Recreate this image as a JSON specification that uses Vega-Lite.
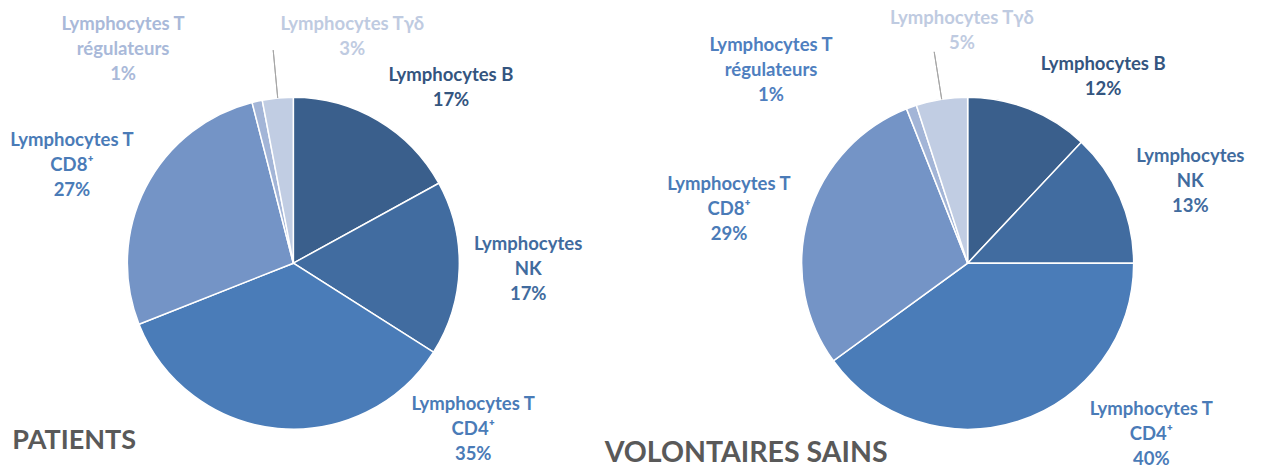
{
  "$schema": "https://vega.github.io/schema/vega-lite/v6.json",
  "width": 1261,
  "height": 470,
  "padding": 0,
  "autosize": {"type": "none"},
  "background": "white",
  "config": {"view": {"stroke": null}},
  "data": {
    "values": [
      {"groupe": "PATIENTS", "categorie": "B", "valeur": 17, "etiquette": "Lymphocytes B\n17%"},
      {"groupe": "PATIENTS", "categorie": "NK", "valeur": 17, "etiquette": "Lymphocytes\nNK\n17%"},
      {"groupe": "PATIENTS", "categorie": "CD4", "valeur": 35, "etiquette": "Lymphocytes T\nCD4⁺\n35%"},
      {"groupe": "PATIENTS", "categorie": "CD8", "valeur": 27, "etiquette": "Lymphocytes T\nCD8⁺\n27%"},
      {"groupe": "PATIENTS", "categorie": "Treg", "valeur": 1, "etiquette": "Lymphocytes T\nrégulateurs\n1%"},
      {"groupe": "PATIENTS", "categorie": "Tgd", "valeur": 3, "etiquette": "Lymphocytes Tγδ\n3%"},
      {"groupe": "VOLONTAIRES SAINS", "categorie": "B", "valeur": 12, "etiquette": "Lymphocytes B\n12%"},
      {"groupe": "VOLONTAIRES SAINS", "categorie": "NK", "valeur": 13, "etiquette": "Lymphocytes\nNK\n13%"},
      {"groupe": "VOLONTAIRES SAINS", "categorie": "CD4", "valeur": 40, "etiquette": "Lymphocytes T\nCD4⁺\n40%"},
      {"groupe": "VOLONTAIRES SAINS", "categorie": "CD8", "valeur": 29, "etiquette": "Lymphocytes T\nCD8⁺\n29%"},
      {"groupe": "VOLONTAIRES SAINS", "categorie": "Treg", "valeur": 1, "etiquette": "Lymphocytes T\nrégulateurs\n1%"},
      {"groupe": "VOLONTAIRES SAINS", "categorie": "Tgd", "valeur": 5, "etiquette": "Lymphocytes Tγδ\n5%"}
    ]
  },
  "transform": [
    {"stack": "valeur", "groupby": ["groupe"], "as": ["v0", "v1"]},
    {"calculate": "(datum.v0 + datum.v1) / 2", "as": "mid"}
  ],
  "encoding": {
    "x": {"field": "groupe", "type": "nominal", "scale": {"type": "point", "padding": 0.435, "domain": ["PATIENTS", "VOLONTAIRES SAINS"]}, "axis": null},
    "y": {"datum": "centre", "type": "nominal", "scale": {"type": "point", "align": 0.56}, "axis": null}
  },
  "layer": [
    {
      "mark": {"type": "arc", "outerRadius": 166, "stroke": "white", "strokeWidth": 1.5},
      "encoding": {
        "theta": {"field": "v0", "type": "quantitative", "scale": {"domain": [0, 100]}},
        "theta2": {"field": "v1"},
        "color": {
          "field": "categorie", "type": "nominal", "legend": null,
          "scale": {"domain": ["B", "NK", "CD4", "CD8", "Treg", "Tgd"], "range": ["#3A5F8C", "#416CA0", "#4A7CB8", "#7494C6", "#A3B5D7", "#C1CDE3"]}
        }
      }
    },
    {
      "transform": [{"filter": "datum.categorie === 'Tgd'"}],
      "mark": {"type": "arc", "innerRadius": 166, "outerRadius": 214, "filled": false, "stroke": "#A6A6A6", "strokeWidth": 1},
      "encoding": {
        "theta": {"field": "mid", "type": "quantitative", "scale": {"domain": [0, 100]}},
        "theta2": {"field": "mid"}
      }
    },
    {
      "transform": [{"filter": "datum.groupe === 'PATIENTS' && datum.categorie === 'B'"}],
      "mark": {"type": "text", "radius": 235, "dx": 38, "dy": 14.5, "color": "#34557F", "font": "Lato", "fontWeight": "bold", "fontSize": 18.5, "lineHeight": 25, "lineBreak": "\n", "align": "center", "baseline": "middle"},
      "encoding": {"theta": {"field": "mid", "type": "quantitative", "scale": {"domain": [0, 100]}}, "text": {"field": "etiquette"}}
    },
    {
      "transform": [{"filter": "datum.groupe === 'PATIENTS' && datum.categorie === 'NK'"}],
      "mark": {"type": "text", "radius": 235, "dx": 0, "dy": -27, "color": "#416B9E", "font": "Lato", "fontWeight": "bold", "fontSize": 18.5, "lineHeight": 25, "lineBreak": "\n", "align": "center", "baseline": "middle"},
      "encoding": {"theta": {"field": "mid", "type": "quantitative", "scale": {"domain": [0, 100]}}, "text": {"field": "etiquette"}}
    },
    {
      "transform": [{"filter": "datum.groupe === 'PATIENTS' && datum.categorie === 'CD4'"}],
      "mark": {"type": "text", "radius": 235, "dx": 202, "dy": -93, "color": "#4A7BB7", "font": "Lato", "fontWeight": "bold", "fontSize": 18.5, "lineHeight": 25, "lineBreak": "\n", "align": "center", "baseline": "middle"},
      "encoding": {"theta": {"field": "mid", "type": "quantitative", "scale": {"domain": [0, 100]}}, "text": {"field": "etiquette"}}
    },
    {
      "transform": [{"filter": "datum.groupe === 'PATIENTS' && datum.categorie === 'CD8'"}],
      "mark": {"type": "text", "radius": 235, "dx": -12, "dy": -17, "color": "#4A7BB7", "font": "Lato", "fontWeight": "bold", "fontSize": 18.5, "lineHeight": 25, "lineBreak": "\n", "align": "center", "baseline": "middle"},
      "encoding": {"theta": {"field": "mid", "type": "quantitative", "scale": {"domain": [0, 100]}}, "text": {"field": "etiquette"}}
    },
    {
      "transform": [{"filter": "datum.groupe === 'PATIENTS' && datum.categorie === 'Treg'"}],
      "mark": {"type": "text", "radius": 235, "dx": -119, "dy": -10, "color": "#A9B9D9", "font": "Lato", "fontWeight": "bold", "fontSize": 18.5, "lineHeight": 25, "lineBreak": "\n", "align": "center", "baseline": "middle"},
      "encoding": {"theta": {"field": "mid", "type": "quantitative", "scale": {"domain": [0, 100]}}, "text": {"field": "etiquette"}}
    },
    {
      "transform": [{"filter": "datum.groupe === 'PATIENTS' && datum.categorie === 'Tgd'"}],
      "mark": {"type": "text", "radius": 235, "dx": 81, "dy": -5.5, "color": "#BFCBE1", "font": "Lato", "fontWeight": "bold", "fontSize": 18.5, "lineHeight": 25, "lineBreak": "\n", "align": "center", "baseline": "middle"},
      "encoding": {"theta": {"field": "mid", "type": "quantitative", "scale": {"domain": [0, 100]}}, "text": {"field": "etiquette"}}
    },
    {
      "transform": [{"filter": "datum.groupe === 'VOLONTAIRES SAINS' && datum.categorie === 'B'"}],
      "mark": {"type": "text", "radius": 235, "dx": 49, "dy": 19.5, "color": "#34557F", "font": "Lato", "fontWeight": "bold", "fontSize": 18.5, "lineHeight": 25, "lineBreak": "\n", "align": "center", "baseline": "middle"},
      "encoding": {"theta": {"field": "mid", "type": "quantitative", "scale": {"domain": [0, 100]}}, "text": {"field": "etiquette"}}
    },
    {
      "transform": [{"filter": "datum.groupe === 'VOLONTAIRES SAINS' && datum.categorie === 'NK'"}],
      "mark": {"type": "text", "radius": 235, "dx": 7, "dy": -14, "color": "#416B9E", "font": "Lato", "fontWeight": "bold", "fontSize": 18.5, "lineHeight": 25, "lineBreak": "\n", "align": "center", "baseline": "middle"},
      "encoding": {"theta": {"field": "mid", "type": "quantitative", "scale": {"domain": [0, 100]}}, "text": {"field": "etiquette"}}
    },
    {
      "transform": [{"filter": "datum.groupe === 'VOLONTAIRES SAINS' && datum.categorie === 'CD4'"}],
      "mark": {"type": "text", "radius": 235, "dx": 111, "dy": -78, "color": "#4A7BB7", "font": "Lato", "fontWeight": "bold", "fontSize": 18.5, "lineHeight": 25, "lineBreak": "\n", "align": "center", "baseline": "middle"},
      "encoding": {"theta": {"field": "mid", "type": "quantitative", "scale": {"domain": [0, 100]}}, "text": {"field": "etiquette"}}
    },
    {
      "transform": [{"filter": "datum.groupe === 'VOLONTAIRES SAINS' && datum.categorie === 'CD8'"}],
      "mark": {"type": "text", "radius": 235, "dx": -13, "dy": -14, "color": "#4A7BB7", "font": "Lato", "fontWeight": "bold", "fontSize": 18.5, "lineHeight": 25, "lineBreak": "\n", "align": "center", "baseline": "middle"},
      "encoding": {"theta": {"field": "mid", "type": "quantitative", "scale": {"domain": [0, 100]}}, "text": {"field": "etiquette"}}
    },
    {
      "transform": [{"filter": "datum.groupe === 'VOLONTAIRES SAINS' && datum.categorie === 'Treg'"}],
      "mark": {"type": "text", "radius": 235, "dx": -117, "dy": 3, "color": "#4F7FBF", "font": "Lato", "fontWeight": "bold", "fontSize": 18.5, "lineHeight": 25, "lineBreak": "\n", "align": "center", "baseline": "middle"},
      "encoding": {"theta": {"field": "mid", "type": "quantitative", "scale": {"domain": [0, 100]}}, "text": {"field": "etiquette"}}
    },
    {
      "transform": [{"filter": "datum.groupe === 'VOLONTAIRES SAINS' && datum.categorie === 'Tgd'"}],
      "mark": {"type": "text", "radius": 235, "dx": 31, "dy": -13.5, "color": "#BFCBE1", "font": "Lato", "fontWeight": "bold", "fontSize": 18.5, "lineHeight": 25, "lineBreak": "\n", "align": "center", "baseline": "middle"},
      "encoding": {"theta": {"field": "mid", "type": "quantitative", "scale": {"domain": [0, 100]}}, "text": {"field": "etiquette"}}
    },
    {
      "transform": [{"filter": "datum.groupe === 'PATIENTS'"}, {"aggregate": [{"op": "count", "as": "n"}], "groupby": ["groupe"]}],
      "mark": {"type": "text", "dx": -281, "dy": 178, "align": "left", "baseline": "middle", "color": "#595959", "font": "Lato", "fontWeight": "bold", "fontSize": 27},
      "encoding": {"text": {"field": "groupe"}}
    },
    {
      "transform": [{"filter": "datum.groupe === 'VOLONTAIRES SAINS'"}, {"aggregate": [{"op": "count", "as": "n"}], "groupby": ["groupe"]}],
      "mark": {"type": "text", "dx": -363, "dy": 190, "align": "left", "baseline": "middle", "color": "#595959", "font": "Lato", "fontWeight": "bold", "fontSize": 28.5},
      "encoding": {"text": {"field": "groupe"}}
    }
  ]
}
